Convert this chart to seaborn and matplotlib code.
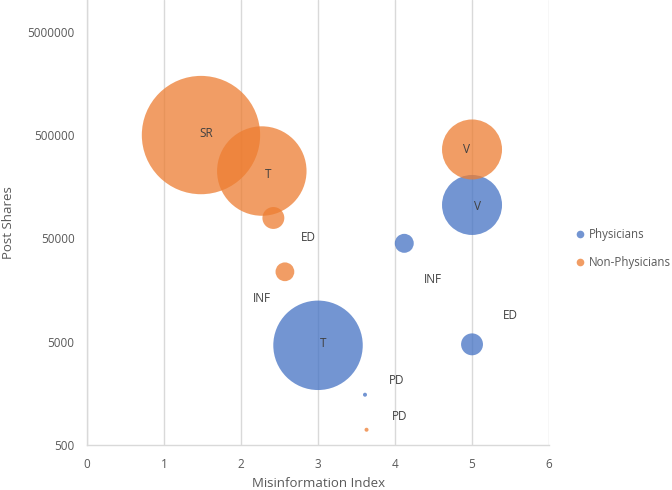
import matplotlib as mpl
mpl.use('Agg')
import matplotlib.pyplot as plt
from matplotlib.lines import Line2D
from matplotlib.ticker import FixedLocator, FuncFormatter, NullLocator
import seaborn as sns
import pandas as pd

# Data
PHYS_LABELS = ["T", "V", "INF", "ED", "PD"]
PHYS_MISINFO = [3.0, 5.0, 4.12, 5.0, 3.61]
PHYS_SHARES = [4620, 105600, 44900, 4720, 1535]
PHYS_BUBBLE = [20, 9, 0.9, 1.2, 0.04]

NONPHYS_LABELS = ["SR", "T", "V", "ED", "INF", "PD"]
NONPHYS_MISINFO = [1.48, 2.27, 5.0, 2.42, 2.57, 3.63]
NONPHYS_SHARES = [502000, 225000, 364000, 79000, 23800, 703]
NONPHYS_BUBBLE = [35, 20, 9, 1.2, 0.88, 0.04]

Y_TICKS = [500, 5000, 50000, 500000, 5000000]
X_TICKS = [0, 1, 2, 3, 4, 5, 6]

# label offsets (points) from the bubble centre
PHYS_OFFSETS = [(3.6, 1.4), (3.6, -1.4), (20.9, -25.9), (27.4, 20.9), (23.0, 10.1)]
NONPHYS_OFFSETS = [(3.6, 1.4), (4.3, -2.2), (-4.3, 0), (25.2, -13.7),
                   (-16.6, -19.4), (23.8, 9.4)]

BLUE = "#4472C4"
ORANGE = "#ED7D31"
TEXT = "#595959"
GRID = "#D9D9D9"

sns.set_style("white")
plt.rcParams['font.family'] = ['Open Sans', 'DejaVu Sans']

df = pd.concat([
    pd.DataFrame({"Misinformation Index": PHYS_MISINFO, "Post Shares": PHYS_SHARES,
                  "bubble": PHYS_BUBBLE, "label": PHYS_LABELS,
                  "group": "Physicians"}),
    pd.DataFrame({"Misinformation Index": NONPHYS_MISINFO, "Post Shares": NONPHYS_SHARES,
                  "bubble": NONPHYS_BUBBLE, "label": NONPHYS_LABELS,
                  "group": "Non-Physicians"}),
], ignore_index=True)

fig = plt.figure(figsize=(6.72, 4.9), dpi=100)
ax = fig.add_axes([0.1295, 0.0918, 0.6875, 0.9082])

# bubble area proportional to value: s = value * 207 pt^2
max_b = max(PHYS_BUBBLE + NONPHYS_BUBBLE)
sns.scatterplot(data=df, x="Misinformation Index", y="Post Shares",
                hue="group", palette={"Physicians": BLUE, "Non-Physicians": ORANGE},
                size="bubble", size_norm=(0, max_b), sizes=(0, max_b * 207.4),
                alpha=0.75, linewidth=0, legend=False, ax=ax, zorder=3)

ax.set_yscale("log")
ax.set_xlim(0, 6)
ax.set_ylim(500, 1.02e7)
ax.xaxis.set_major_locator(FixedLocator(X_TICKS))
ax.yaxis.set_major_locator(FixedLocator(Y_TICKS))
ax.yaxis.set_minor_locator(NullLocator())
ax.yaxis.set_major_formatter(FuncFormatter(lambda v, p: "%d" % round(v)))

ax.grid(axis="x", color=GRID, linewidth=1, zorder=0)
ax.grid(axis="y", visible=False)
for side in ["top", "right"]:
    ax.spines[side].set_visible(False)
for side in ["left", "bottom"]:
    ax.spines[side].set_color(GRID)
    ax.spines[side].set_linewidth(1)
ax.tick_params(axis="both", length=0, pad=9, labelsize=8.5, labelcolor=TEXT)

ax.set_xlabel("Misinformation Index", fontsize=9.5, color=TEXT, labelpad=4.5)
ax.set_ylabel("Post Shares", fontsize=9.5, color=TEXT, labelpad=9)

# data labels
for xs, ys, labels, offs in [
        (PHYS_MISINFO, PHYS_SHARES, PHYS_LABELS, PHYS_OFFSETS),
        (NONPHYS_MISINFO, NONPHYS_SHARES, NONPHYS_LABELS, NONPHYS_OFFSETS)]:
    for x, y, lab, off in zip(xs, ys, labels, offs):
        ax.annotate(lab, (x, y), xytext=off, textcoords="offset points",
                    ha="center", va="center", fontsize=8.5, color="#404040",
                    zorder=5)

handles = [Line2D([], [], marker="o", linestyle="", markersize=5.5,
                  markerfacecolor=c, markeredgewidth=0, alpha=0.75)
           for c in [BLUE, ORANGE]]
fig.legend(handles, ["Physicians", "Non-Physicians"], loc="center left",
           bbox_to_anchor=(0.846, 0.492), frameon=False, fontsize=8.3,
           labelcolor=TEXT, handletextpad=0.3, handlelength=1.0,
           labelspacing=1.3, borderpad=0)

fig.savefig("out.png", dpi=100)
